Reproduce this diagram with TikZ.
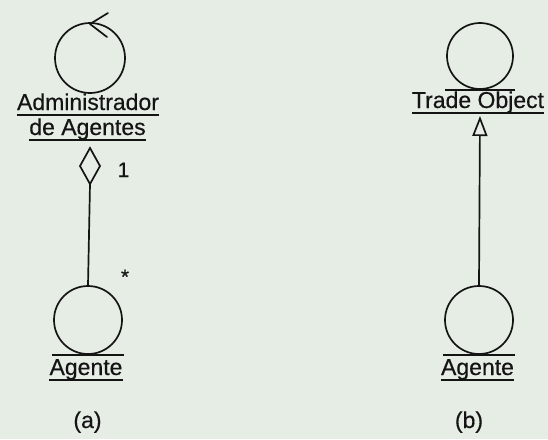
\documentclass[tikz,border=0pt]{standalone}
\usepackage{fontspec}
\setmainfont{Liberation Sans}[FakeBold=0.4]
\usetikzlibrary{arrows.meta}
\definecolor{paper}{RGB}{230,237,229}
\definecolor{ink}{RGB}{20,20,20}
\tikzset{
  obj/.style={circle, draw=ink, line width=1.7pt, inner sep=0pt, minimum size=#1},
  lbl/.style={inner sep=0pt, anchor=base, text=ink, font=\fontsize{23}{25}\selectfont},
  mult/.style={inner sep=0pt, anchor=base, text=ink, font=\fontsize{21}{23}\selectfont},
  wire/.style={draw=ink, line width=1.7pt},
}
\newcommand{\ulabel}[1]{\draw[wire] ([yshift=-5pt]#1.base west) -- ([yshift=-5pt]#1.base east);}
\begin{document}
\begin{tikzpicture}[x=1pt,y=-1pt]
  % page
  \fill[paper] (0,0) rectangle (548,439);
  \useasboundingbox (0,0) rectangle (548,439);

  % ---------- (a) aggregation ----------
  % control object
  \node[obj=70pt] (adm) at (90,58) {};
  \coordinate (admtop) at (90,24);
  \draw[wire, line cap=round, line join=round] (108,13) -- (admtop) -- (107,37);
  \node[lbl] (admA) at (88,110) {Administrador};
  \ulabel{admA}
  \node[lbl] (admB) at (87.5,135) {de Agentes};
  \ulabel{admB}

  % aggregation diamond and link
  \coordinate (dtop) at (90,148);
  \coordinate (dright) at (100,166);
  \coordinate (dbot) at (90,184);
  \coordinate (dleft) at (80,166);
  \draw[wire, line join=miter] (dtop) -- (dright) -- (dbot) -- (dleft) -- cycle;

  % entity object
  \node[obj=68pt] (ag1) at (88,320) {};
  \draw[wire] ([xshift=-36pt]ag1.south) -- ([xshift=36pt]ag1.south);
  \node[lbl] (ag1l) at (86,375) {Agente};
  \ulabel{ag1l}

  \draw[wire] (dbot) -- (ag1.north);
  \node[mult] (m1) at (123.5,177) {1};
  \node[mult] (m2) at (125,284) {*};

  \node[lbl] (capa) at (87.5,428) {(a)};

  % ---------- (b) generalization ----------
  \node[obj=66pt] (to) at (480,56) {};
  \draw[wire] ([xshift=-35pt]to.south) -- ([xshift=35pt]to.south);
  \node[lbl] (tol) at (478,108) {Trade Object};
  \ulabel{tol}

  \node[obj=68pt] (ag2) at (479,320) {};
  \draw[wire] ([xshift=-36pt]ag2.south) -- ([xshift=36pt]ag2.south);
  \node[lbl] (ag2l) at (477.5,375) {Agente};
  \ulabel{ag2l}

  \coordinate (tip) at (480,116);
  \draw[wire, -{Triangle[open, width=15pt, length=20pt, line width=1.7pt]}] (ag2.north) -- (tip);

  \node[lbl] (capb) at (469,428) {(b)};
\end{tikzpicture}
\end{document}
